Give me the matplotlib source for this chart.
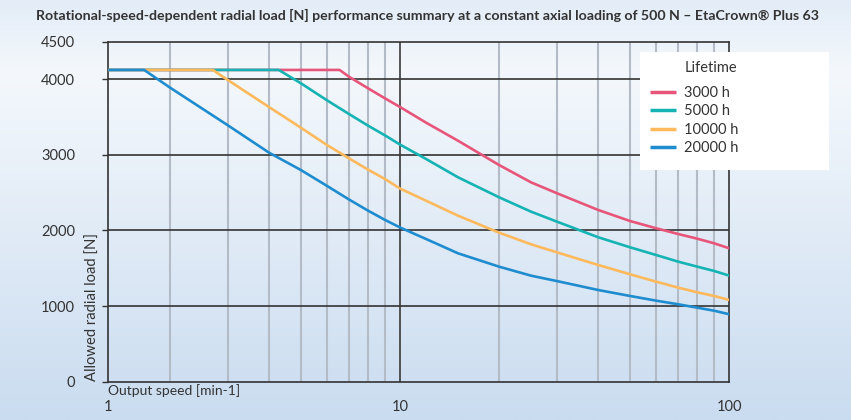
import matplotlib.pyplot as plt
from matplotlib.colors import LinearSegmentedColormap
from matplotlib.patches import Rectangle
import numpy as np

plt.rcParams['font.family'] = ['Lato', 'DejaVu Sans']

title = ("Rotational-speed-dependent radial load [N] performance summary at a "
         "constant axial loading of 500 N \u2013 EtaCrown\u00ae Plus 63")

# lifetime curves: output speed [min-1] vs allowed radial load [N]
speed_3000 = [1.30, 6.55, 7, 8, 9, 10, 12, 15, 20, 25, 30, 40, 50, 60, 70, 80, 90, 100]
load_3000 = [4125, 4125, 4035, 3881, 3749, 3634, 3427, 3188, 2866, 2637, 2492, 2271, 2125, 2029, 1953, 1891, 1830, 1764]

speed_5000 = [1.30, 4.28, 5, 6, 7, 8, 9, 10, 12, 15, 20, 25, 30, 40, 50, 60, 70, 80, 90, 100]
load_5000 = [4125, 4125, 3948, 3723, 3541, 3387, 3259, 3137, 2946, 2704, 2439, 2249, 2116, 1910, 1777, 1675, 1587, 1521, 1464, 1402]

speed_10000 = [1.30, 2.70, 3, 4, 5, 6, 7, 8, 9, 10, 12, 15, 20, 25, 30, 40, 50, 60, 70, 80, 90, 100]
load_10000 = [4125, 4125, 3991, 3634, 3360, 3131, 2955, 2805, 2681, 2555, 2394, 2196, 1971, 1817, 1710, 1543, 1420, 1322, 1243, 1182, 1133, 1080]

speed_20000 = [1.30, 1.67, 2, 3, 4, 5, 6, 7, 8, 9, 10, 12, 15, 20, 25, 30, 40, 50, 60, 70, 80, 90, 100]
load_20000 = [4125, 4125, 3892, 3392, 3030, 2800, 2590, 2410, 2262, 2140, 2040, 1887, 1698, 1521, 1402, 1330, 1212, 1133, 1071, 1023, 978, 938, 891]

series = [
    ("3000 h", speed_3000, load_3000, "#e8557a"),
    ("5000 h", speed_5000, load_5000, "#16b3b4"),
    ("10000 h", speed_10000, load_10000, "#fdb95c"),
    ("20000 h", speed_20000, load_20000, "#1f8ccf"),
]

y_ticks = [0, 1000, 2000, 3000, 4000, 4500]
x_major = [10]
x_minor = [2, 3, 4, 5, 6, 7, 8, 9, 20, 30, 40, 50, 60, 70, 80, 90]
x_label_pos = [1.30, 10, 100]
x_labels = ["1", "10", "100"]

fig = plt.figure(figsize=(8.51, 4.20), dpi=100)

# background gradient over the whole figure
bg = fig.add_axes([0, 0, 1, 1], zorder=-10)
bg_cmap = LinearSegmentedColormap.from_list(
    "bg", [(0.0, "#e3ecf7"), (0.17, "#f4f8fc"), (1.0, "#cadcf0")])
bg.imshow(np.linspace(0, 1, 256).reshape(-1, 1), aspect="auto", cmap=bg_cmap,
          extent=[0, 1, 0, 1])
bg.axis("off")

ax = fig.add_axes([108.3 / 851, 1 - 381.6 / 420, (729.3 - 108.3) / 851, (381.6 - 41.6) / 420])
ax.set_facecolor("none")
ax.set_xscale("log")
ax.set_xlim(1.30, 100)
ax.set_ylim(0, 4500)

for xm in x_minor:
    ax.axvline(xm, color="#b3bcc6", lw=1.5, zorder=1)
for xm in x_major:
    ax.axvline(xm, color="#3a3a3a", lw=1.2, zorder=1)
for yv in y_ticks[1:-1]:
    ax.axhline(yv, color="#333333", lw=1.2, zorder=1)

for label, xs, ys, col in series:
    ax.plot(xs, ys, color=col, lw=1.9, label=label, zorder=3, solid_capstyle="butt")

for sp in ax.spines.values():
    sp.set_color("#333333")
    sp.set_linewidth(1.2)

ax.set_yticks(y_ticks)
ax.set_yticklabels([str(v) for v in y_ticks])
ax.tick_params(axis="y", length=4, width=1, color="#333333", pad=20,
               labelsize=10.5, labelcolor="#333333")
ax.set_xticks([])
ax.set_xticks([], minor=True)

# x tick labels sit below the x label, as in the original
for xv, txt in zip(x_label_pos, x_labels):
    ax.text(xv, -0.075, txt, transform=ax.get_xaxis_transform(), ha="center",
            va="center", fontsize=10.5, color="#333333")
fig.text(108 / 851, 1 - 391 / 420, "Output speed [min-1]", ha="left", va="center",
         fontsize=10, color="#333333")
fig.text(93 / 851, 1 - 307 / 420, "Allowed radial load [N]", rotation=90, ha="center",
         va="center", fontsize=10.6, color="#333333")

# title, scaled to the width it takes in the original
ttl = fig.text(36 / 851, 1 - 15 / 420, title, ha="left", va="center", fontsize=10,
               fontweight="bold", color="#333333")
fig.canvas.draw()
w = ttl.get_window_extent().width
ttl.set_fontsize(10 * 785 / w)

# legend box
fig.patches.append(Rectangle((640 / 851, 1 - 170 / 420), 189 / 851, 118 / 420,
                             transform=fig.transFigure, facecolor="white",
                             edgecolor="none", zorder=5))
fig.text(685 / 851, 1 - 68 / 420, "Lifetime", ha="left", va="center", fontsize=10.5,
         color="#333333", zorder=7)
handles, labels = ax.get_legend_handles_labels()
leg = fig.legend(handles, labels, loc="upper left", bbox_to_anchor=(650 / 851, 1 - 86 / 420),
                 frameon=False, fontsize=10.5, handlelength=1.75, handletextpad=0.55,
                 labelspacing=0.3, borderpad=0, borderaxespad=0)
leg.set_zorder(8)
for t in leg.get_texts():
    t.set_color("#333333")
for h in leg.legend_handles:
    h.set_linewidth(2.5)

fig.savefig("out.png", dpi=100)
